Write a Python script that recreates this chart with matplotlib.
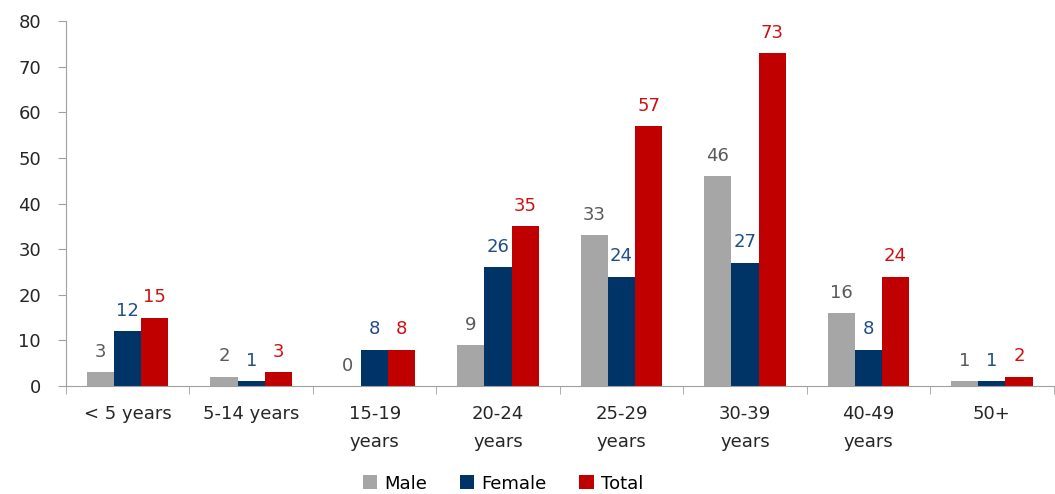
import matplotlib.pyplot as plt
import numpy as np

categories = ["< 5 years", "5-14 years", "15-19\nyears", "20-24\nyears",
              "25-29\nyears", "30-39\nyears", "40-49\nyears", "50+"]
male = [3, 2, 0, 9, 33, 46, 16, 1]
female = [12, 1, 8, 26, 24, 27, 8, 1]
total = [15, 3, 8, 35, 57, 73, 24, 2]

series = [("Male", male, "#A6A6A6", "#595959"),
          ("Female", female, "#003366", "#1F4E89"),
          ("Total", total, "#C00000", "#D01010")]

FONT = "DejaVu Sans"
plt.rcParams['font.family'] = [FONT]
plt.rcParams['font.sans-serif'] = [FONT]

fig = plt.figure(figsize=(10.55, 4.94), dpi=100)
ax = fig.add_axes([0.0626, 0.2186, 0.936, 0.7389])

x = np.arange(len(categories))
w = 0.22
for i, (name, vals, col, lcol) in enumerate(series):
    pos = x + (i - 1) * w
    ax.bar(pos, vals, w, color=col, label=name)
    for p, v in zip(pos, vals):
        ax.text(p, v + 2.5, str(v), ha="center", va="bottom",
                fontsize=13, color=lcol, family=FONT)

ax.set_xlim(-0.5, len(categories) - 0.5)
ax.set_ylim(0, 80)
ax.set_yticks(range(0, 81, 10))
ax.set_yticklabels([str(v) for v in range(0, 81, 10)], family=FONT)
ax.tick_params(axis="y", labelsize=13, length=6, color="#A0A0A0", pad=12,
               labelcolor="#262626")
ax.set_xticks(x)
ax.set_xticklabels(categories, fontsize=13, color="#262626", linespacing=1.65,
                   family=FONT)
ax.tick_params(axis="x", length=0, pad=14)
ax.set_xticks(np.arange(len(categories) + 1) - 0.5, minor=True)
ax.tick_params(axis="x", which="minor", length=6, color="#A0A0A0")

for s in ["top", "right"]:
    ax.spines[s].set_visible(False)
for s in ["left", "bottom"]:
    ax.spines[s].set_color("#A0A0A0")

fig.legend(loc="lower center", bbox_to_anchor=(0.477, -0.03), ncol=3,
           frameon=False, prop={"family": FONT, "size": 13},
           handlelength=0.8, handleheight=0.8,
           handletextpad=0.4, columnspacing=1.8)

fig.savefig("out.png", dpi=100)
